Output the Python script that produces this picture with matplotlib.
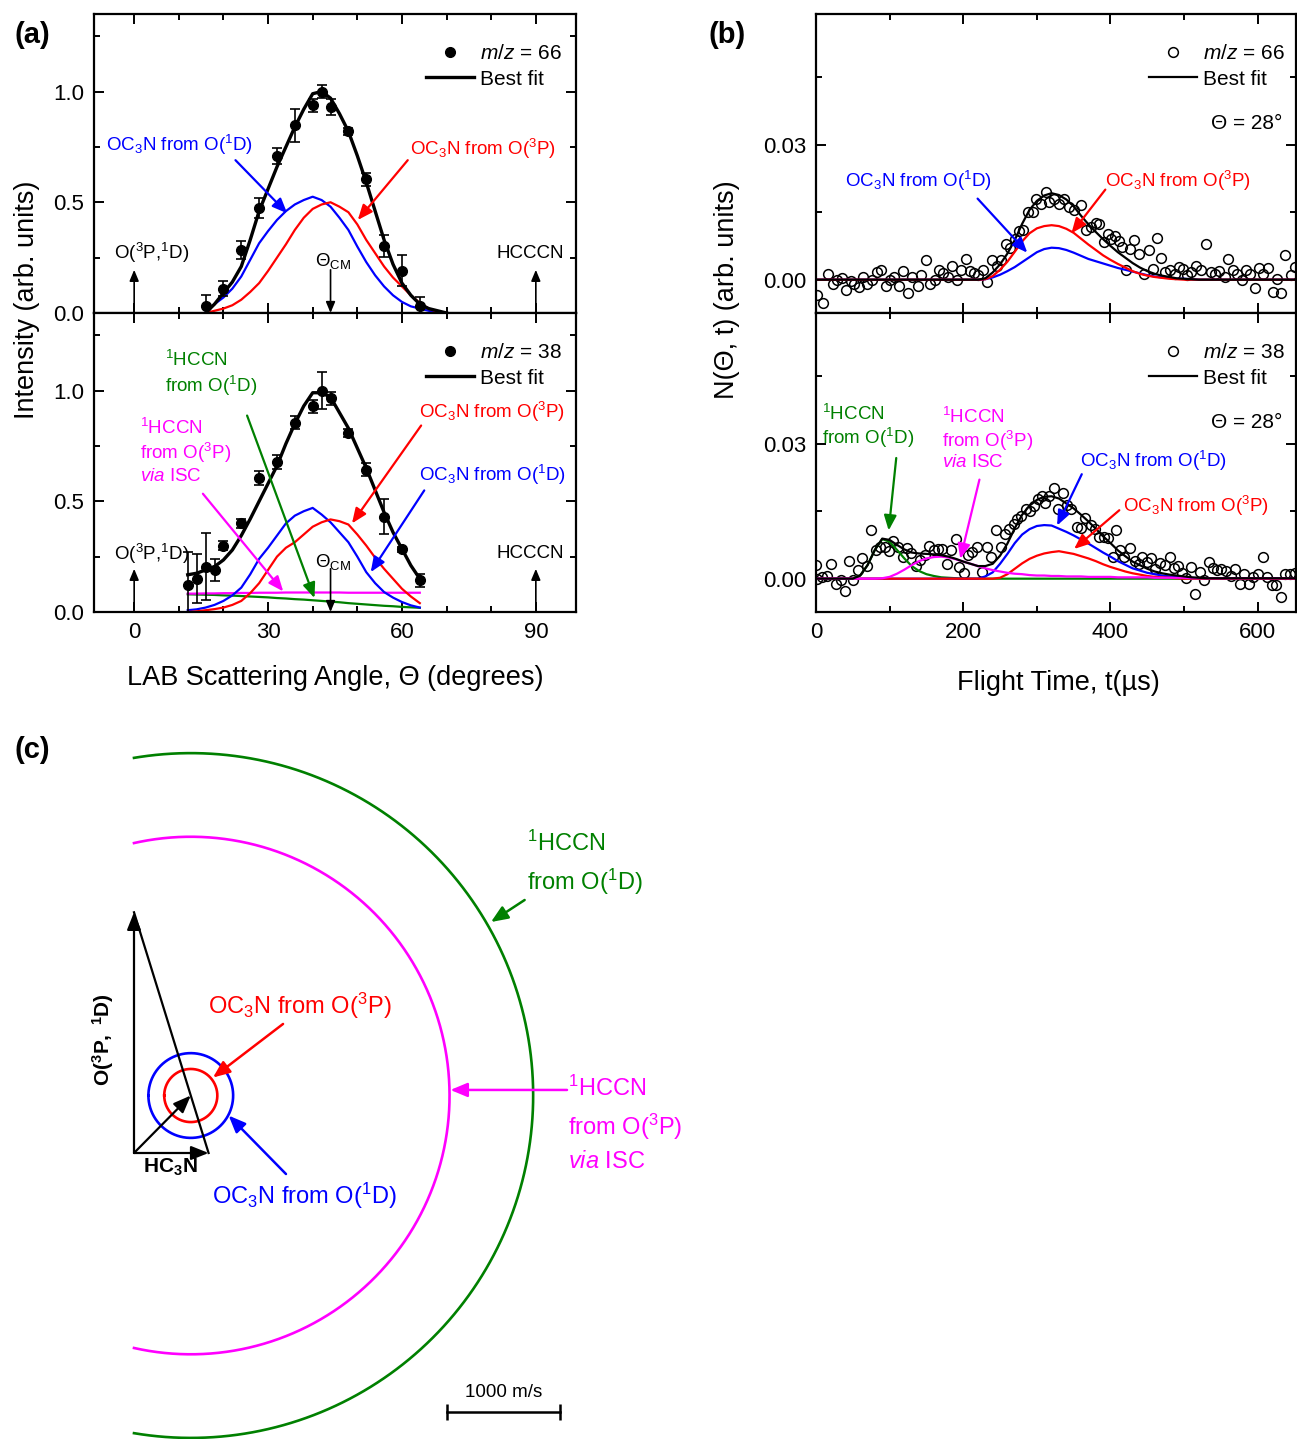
import numpy as np
import matplotlib
matplotlib.use("Agg")
import matplotlib.pyplot as plt
from matplotlib.lines import Line2D
from matplotlib.ticker import MultipleLocator, FormatStrFormatter

plt.rcParams['font.family'] = ['Liberation Sans', 'DejaVu Sans']
plt.rcParams['mathtext.fontset'] = 'custom'
plt.rcParams['mathtext.rm'] = 'Liberation Sans'
plt.rcParams['mathtext.it'] = 'Liberation Sans:italic'
plt.rcParams['mathtext.bf'] = 'Liberation Sans:bold'
plt.rcParams['mathtext.default'] = 'regular'

BLUE = '#0000ff'
RED = '#ff0000'
GREEN = '#008000'
MAGENTA = '#ff00ff'

# ---------------- (a) LAB angular distributions ----------------
# m/z = 66
ang66 = [16, 20, 24, 28, 32, 36, 40, 42, 44, 48, 52, 56, 60, 64]
int66 = [0.03, 0.11, 0.285, 0.475, 0.708, 0.847, 0.937, 1.0, 0.93, 0.82, 0.604, 0.304, 0.19, 0.03]
err66 = [0.05, 0.035, 0.04, 0.045, 0.035, 0.075, 0.03, 0.03, 0.035, 0.015, 0.03, 0.05, 0.07, 0.04]

ang66_fit = [16, 18, 20, 22, 24, 26, 28, 30, 32, 34, 36, 38, 40, 42, 44, 46, 48, 50, 52, 54, 56, 58, 60, 62, 64, 66, 68, 70]
fit66_total = [0.0, 0.04, 0.09, 0.14, 0.21, 0.33, 0.46, 0.56, 0.66, 0.75, 0.84, 0.92, 0.99, 1.0, 0.97, 0.90, 0.82, 0.71,
               0.59, 0.46, 0.33, 0.22, 0.135, 0.08, 0.04, 0.02, 0.01, 0.0]
fit66_o1d = [0.01, 0.04, 0.07, 0.11, 0.165, 0.24, 0.315, 0.37, 0.42, 0.46, 0.49, 0.51, 0.525, 0.51, 0.48, 0.43, 0.375, 0.30,
             0.23, 0.17, 0.12, 0.08, 0.05, 0.03, 0.02, 0.01, 0.005, 0.0]
fit66_o3p = [0.0, 0.01, 0.02, 0.035, 0.06, 0.095, 0.135, 0.19, 0.25, 0.31, 0.375, 0.43, 0.47, 0.49, 0.50, 0.48, 0.455, 0.40,
             0.33, 0.27, 0.21, 0.16, 0.12, 0.08, 0.045, 0.02, 0.005, 0.0]

# m/z = 38
ang38 = [12, 14, 16, 18, 20, 24, 28, 32, 36, 40, 42, 44, 48, 52, 56, 60, 64]
int38 = [0.123, 0.15, 0.205, 0.19, 0.30, 0.40, 0.605, 0.677, 0.854, 0.928, 1.0, 0.965, 0.808, 0.642, 0.43, 0.283, 0.143]
err38 = [0.15, 0.11, 0.15, 0.05, 0.02, 0.02, 0.03, 0.03, 0.03, 0.03, 0.085, 0.03, 0.02, 0.03, 0.08, 0.01, 0.03]

ang38_fit = [12, 14, 16, 18, 20, 22, 24, 26, 28, 30, 32, 34, 36, 38, 40, 42, 44, 46, 48, 50, 52, 54, 56, 58, 60, 62, 64]
fit38_total = [0.168, 0.175, 0.19, 0.205, 0.235, 0.28, 0.345, 0.42, 0.50, 0.58, 0.66, 0.76, 0.85, 0.93, 0.99, 0.99, 0.97,
               0.90, 0.83, 0.74, 0.65, 0.55, 0.45, 0.36, 0.285, 0.21, 0.15]
fit38_oc3n_o1d = [0.008, 0.012, 0.02, 0.032, 0.05, 0.075, 0.11, 0.17, 0.24, 0.29, 0.345, 0.40, 0.435, 0.455, 0.47, 0.44,
                  0.405, 0.36, 0.315, 0.25, 0.18, 0.13, 0.09, 0.065, 0.045, 0.03, 0.02]
fit38_oc3n_o3p = [0.0, 0.003, 0.008, 0.013, 0.02, 0.032, 0.05, 0.085, 0.13, 0.19, 0.25, 0.29, 0.315, 0.35, 0.385, 0.405,
                  0.418, 0.41, 0.395, 0.35, 0.30, 0.245, 0.195, 0.15, 0.105, 0.07, 0.04]
fit38_hccn_o3p = [0.083, 0.083, 0.084, 0.084, 0.085, 0.085, 0.086, 0.086, 0.087, 0.087, 0.087, 0.088, 0.088, 0.088, 0.088,
                  0.088, 0.088, 0.088, 0.087, 0.087, 0.087, 0.087, 0.087, 0.087, 0.087, 0.087, 0.087]
fit38_hccn_o1d = [0.080, 0.079, 0.078, 0.077, 0.075, 0.074, 0.072, 0.070, 0.068, 0.066, 0.063, 0.061, 0.058, 0.056, 0.053,
                  0.050, 0.047, 0.044, 0.040, 0.037, 0.034, 0.031, 0.028, 0.026, 0.023, 0.021, 0.019]

# ---------------- (b) TOF spectra at 28 deg ----------------
tof66_t = [1.8, 10, 16.3, 23.6, 29, 35, 40.4, 47, 51.7, 58.5, 64.4, 69.8, 76.7, 82.5, 88.8, 94.8, 100.7, 106, 112.9,
           118.8, 125.6, 131, 137.9, 143.3, 149.2, 155, 161.4, 167.2, 173.1, 179.5, 185.3, 192.1, 197.6, 203.4, 209.3,
           214.7, 220.2, 227.4, 232.8, 239.6, 245.5, 251, 257.8, 263.7, 270, 275.9, 281.8, 287.3, 294.1, 298.6, 305.4,
           312.5, 317, 323.8, 330.6, 337.4, 344.2, 351, 360, 366.9, 373.7, 380.5, 385, 390.9, 396.4, 400.9, 406.4,
           410.9, 415.4, 421.3, 425.9, 431.7, 438.1, 445.4, 451.7, 457.6, 463.5, 469, 474.4, 480.3, 487.1, 492.5,
           498.5, 504.4, 509.8, 516.6, 523.4, 530.2, 536.1, 541.5, 547, 555.1, 559.6, 566.4, 572.3, 578.6, 584.5, 589,
           595.8, 601.3, 607.2, 614, 620.8, 626.7, 632.2, 637.6, 645.8, 651.2]
tof66_n = [-0.0035, -0.0052, 0.0012, -0.001, 0.0, 0.0004, -0.0024, -0.0003, -0.001, -0.0016, 0.0007, -0.0009, 0.0,
           0.0017, 0.0021, -0.0015, 0.0, 0.0007, -0.0015, 0.0019, -0.003, 0.0006, -0.0015, 0.001, 0.0043, -0.0009, 0.0,
           0.0022, 0.0015, 0.0007, 0.003, 0.0, 0.0022, 0.0047, 0.0019, 0.0015, 0.001, 0.0022, -0.0005, 0.0043, 0.003,
           0.0043, 0.008, 0.0071, 0.0091, 0.0108, 0.011, 0.015, 0.015, 0.018, 0.0169, 0.0195, 0.0172, 0.018, 0.0169,
           0.018, 0.0161, 0.0154, 0.0165, 0.011, 0.0117, 0.0126, 0.0123, 0.0084, 0.0101, 0.0091, 0.0096, 0.0087,
           0.0072, 0.0022, 0.0069, 0.0089, 0.0058, 0.0013, 0.0065, 0.0024, 0.0093, 0.0049, 0.0017, 0.0021, 0.0013,
           0.0028, 0.0024, 0.001, 0.0017, 0.003, 0.0021, 0.008, 0.0017, 0.0012, 0.0019, 0.0006, 0.0047, 0.0021, 0.0013,
           0.0, 0.0022, 0.0013, -0.0018, 0.0027, 0.0013, 0.0027, -0.0027, 0.0002, -0.003, 0.0054, 0.001, 0.0028]

tof38_t = [0, 1.8, 8.6, 15.4, 20.9, 26.8, 33.6, 39, 44.9, 50.8, 57.1, 63, 69.8, 75.3, 81.2, 87.1, 93.4, 99.3, 105.2,
           111.6, 117.5, 123.4, 128.8, 135.6, 141.5, 147.8, 153.7, 160.5, 165.9, 171.8, 177.7, 183.1, 189.9, 194.4,
           201.2, 206.6, 212.5, 219.3, 226.1, 232, 238.3, 244.2, 251, 256.5, 262.4, 268.3, 273.7, 279.1, 285, 290.9,
           296.4, 300.9, 306.4, 310.9, 316.8, 322.9, 329.2, 335.1, 341, 346.5, 354.7, 360.1, 365.5, 373.7, 379.2, 385,
           391.8, 397.3, 403.2, 407.7, 413.6, 419, 425.9, 432.7, 438.1, 442.6, 449.9, 455.3, 460.8, 466.7, 473.5,
           480.3, 486.2, 491.6, 497.1, 503, 508.8, 515.2, 521.1, 527, 533.3, 539.2, 545.1, 550.6, 557.4, 563.3, 569.6,
           575.5, 581.4, 587.8, 593.7, 600.5, 607.3, 613.2, 619.5, 625.4, 631.3, 636.7, 643.5, 650]
tof38_n = [0.003, 0.0, 0.0004, 0.0007, 0.0033, -0.0012, -0.0002, -0.0027, 0.0039, -0.0002, 0.002, 0.0046, 0.0029,
           0.0108, 0.0064, 0.0071, 0.0071, 0.0062, 0.0083, 0.0071, 0.0048, 0.0068, 0.0056, 0.0029, 0.0042, 0.0053,
           0.0073, 0.0064, 0.0066, 0.0066, 0.0033, 0.0064, 0.0088, 0.0027, 0.0012, 0.0053, 0.0059, 0.007, 0.0015,
           0.0071, 0.0048, 0.0108, 0.007, 0.01, 0.011, 0.0121, 0.0132, 0.0139, 0.0154, 0.015, 0.0161, 0.0176, 0.0183,
           0.0168, 0.0183, 0.0201, 0.0154, 0.019, 0.0163, 0.0154, 0.0115, 0.0113, 0.0134, 0.0119, 0.011, 0.0092,
           0.0093, 0.009, 0.0049, 0.0108, 0.0064, 0.0049, 0.0068, 0.004, 0.0033, 0.0049, 0.0037, 0.0046, 0.0022,
           0.0034, 0.0031, 0.0049, 0.0024, 0.0029, 0.0012, 0.0002, 0.0027, -0.0034, 0.0015, -0.0004, 0.0037, 0.0024,
           0.002, 0.0022, 0.0017, 0.0005, 0.0022, -0.0012, 0.0011, -0.0012, 0.0004, 0.001, 0.0048, 0.0004, -0.0015,
           -0.0015, -0.004, 0.001, 0.001, 0.0012]

tof_fit_t = list(range(0, 660, 10))
tof66_total = [0, 0, 0, 0, 0, 0, 0, 0, 0, 0, 0, 0, 0, 0, 0, 0, 0, 0, 0, 0, 0, 0,
               0.0, 0.0003, 0.0016, 0.0034, 0.0058, 0.0088, 0.0124, 0.0155, 0.0175, 0.0187, 0.0192, 0.0188, 0.0178,
               0.0163, 0.0142, 0.0123, 0.0106, 0.0090, 0.0075, 0.0061, 0.0049, 0.0037, 0.0027, 0.0019, 0.0013, 0.0009,
               0.0006, 0.0003, 0.0002, 0.0001,
               0, 0, 0, 0, 0, 0, 0, 0, 0, 0, 0, 0, 0, 0]
tof66_o3p = [0, 0, 0, 0, 0, 0, 0, 0, 0, 0, 0, 0, 0, 0, 0, 0, 0, 0, 0, 0, 0, 0,
             0.0, 0.0001, 0.0008, 0.0022, 0.0040, 0.0062, 0.0085, 0.0103, 0.0114, 0.0119, 0.0121, 0.0119, 0.0113,
             0.0104, 0.0091, 0.0078, 0.0066, 0.0054, 0.0044, 0.0035, 0.0027, 0.0019, 0.0013, 0.0009, 0.0006, 0.0004,
             0.0002, 0.0001, 0.0, 0.0,
             0, 0, 0, 0, 0, 0, 0, 0, 0, 0, 0, 0, 0, 0]
tof66_o1d = [0, 0, 0, 0, 0, 0, 0, 0, 0, 0, 0, 0, 0, 0, 0, 0, 0, 0, 0, 0, 0, 0,
             0.0, 0.0001, 0.0005, 0.0011, 0.0019, 0.0028, 0.0039, 0.0050, 0.0061, 0.0068, 0.0071, 0.0070, 0.0066,
             0.0060, 0.0053, 0.0046, 0.0041, 0.0036, 0.0031, 0.0026, 0.0022, 0.0018, 0.0014, 0.0010, 0.0007, 0.0005,
             0.0004, 0.0002, 0.0002, 0.0001,
             0, 0, 0, 0, 0, 0, 0, 0, 0, 0, 0, 0, 0, 0]

tof38_total = [0, 0, 0, 0, 0, 0,
               0.0007, 0.0030, 0.0064, 0.0089, 0.0086, 0.0075, 0.0065, 0.0058, 0.0056, 0.0055, 0.0054, 0.0052, 0.0049,
               0.0044, 0.0038, 0.0033, 0.0028, 0.0028, 0.0033, 0.0051, 0.0078, 0.0112, 0.0142, 0.0162, 0.0175, 0.0182,
               0.0183, 0.0178, 0.0167, 0.0156, 0.0142, 0.0127, 0.0111, 0.0094, 0.0079, 0.0063, 0.0050, 0.0038, 0.0030,
               0.0022, 0.0016, 0.0012, 0.0009, 0.0007, 0.0005, 0.0003, 0.0002,
               0.0001, 0.0001, 0.0001, 0.0001, 0.0001, 0.0001, 0.0001, 0.0001, 0.0001, 0.0001, 0.0001, 0.0001, 0.0001]
tof38_hccn_o1d = [0, 0, 0, 0, 0, 0,
                  0.0007, 0.0030, 0.0064, 0.0088, 0.0082, 0.0064, 0.0045, 0.0028, 0.0017, 0.0010, 0.0006, 0.0003,
                  0.0002, 0.0001,
                  0, 0, 0, 0, 0, 0, 0, 0, 0, 0, 0, 0, 0, 0, 0, 0, 0, 0, 0, 0, 0, 0, 0, 0, 0, 0,
                  0, 0, 0, 0, 0, 0, 0, 0, 0, 0, 0, 0, 0, 0, 0, 0, 0, 0, 0, 0]
tof38_hccn_o3p = [0, 0, 0, 0, 0, 0, 0, 0, 0,
                  0.0001, 0.0004, 0.0011, 0.0020, 0.0030, 0.0039, 0.0045, 0.0048, 0.0049, 0.0047, 0.0043, 0.0038,
                  0.0033, 0.0028, 0.0023, 0.0019, 0.0016, 0.0013, 0.0011, 0.0010, 0.0008, 0.0007, 0.0007, 0.0006,
                  0.0006, 0.0005, 0.0005, 0.0005, 0.0004, 0.0004, 0.0004, 0.0004, 0.0003, 0.0003, 0.0003, 0.0003,
                  0.0003, 0.0002, 0.0002, 0.0002, 0.0002, 0.0002,
                  0.0001, 0.0001, 0.0001, 0.0001, 0.0001, 0.0001, 0.0001, 0.0001, 0.0001, 0.0001, 0.0001, 0.0001,
                  0.0001, 0.0001, 0.0001]
tof38_oc3n_o1d = [0, 0, 0, 0, 0, 0, 0, 0, 0, 0, 0, 0, 0, 0, 0, 0, 0, 0, 0, 0, 0, 0,
                  0.0, 0.0005, 0.0014, 0.0033, 0.0055, 0.0079, 0.0098, 0.0110, 0.0117, 0.0119, 0.0118, 0.0111, 0.0104,
                  0.0096, 0.0087, 0.0078, 0.0068, 0.0058, 0.0049, 0.0039, 0.0031, 0.0023, 0.0018, 0.0013, 0.0010,
                  0.0007, 0.0005, 0.0004, 0.0003, 0.0002, 0.0001,
                  0, 0, 0, 0, 0, 0, 0, 0, 0, 0, 0, 0, 0]
tof38_oc3n_o3p = [0, 0, 0, 0, 0, 0, 0, 0, 0, 0, 0, 0, 0, 0, 0, 0, 0, 0, 0, 0, 0, 0, 0, 0, 0,
                  0.0002, 0.0010, 0.0022, 0.0034, 0.0044, 0.0051, 0.0056, 0.0059, 0.0061, 0.0058, 0.0055, 0.0050,
                  0.0045, 0.0039, 0.0032, 0.0026, 0.0021, 0.0016, 0.0012, 0.0009, 0.0006, 0.0004, 0.0003, 0.0002,
                  0.0001,
                  0, 0, 0, 0, 0, 0, 0, 0, 0, 0, 0, 0, 0, 0, 0, 0]

# ---------------- (c) Newton diagram (m/s) ----------------
v_O = 2130.0        # O(3P,1D) beam velocity
v_HC3N = 660.0      # HC3N beam velocity
m_O, m_HC3N = 16.0, 51.0
ring_names = ['OC3N from O(3P)', 'OC3N from O(1D)', '1HCCN from O(3P)', '1HCCN from O(1D)']
ring_radii = [235, 375, 2290, 3030]
ring_colors = [RED, BLUE, MAGENTA, GREEN]
scale_len = 1000

W, H = 1297, 1439
fig = plt.figure(figsize=(W / 100, H / 100), dpi=100)


def fx(px):
    return px / W


def fy(py):
    return 1 - py / H


def style(ax):
    ax.tick_params(which='both', direction='in', top=True, right=True, width=1.4, labelsize=16, pad=7)
    ax.tick_params(which='major', length=7)
    ax.tick_params(which='minor', length=4)
    for s in ax.spines.values():
        s.set_linewidth(1.6)


def arrow(ax, tip, start, color, lw=1.6, head=15):
    ax.annotate('', xy=tip, xytext=start,
                arrowprops=dict(arrowstyle='-|>,head_length=0.6,head_width=0.25', color=color, lw=lw,
                                shrinkA=0, shrinkB=0, mutation_scale=head))


def legend(ax, handles, labels, xa):
    ax.legend(handles, labels, loc='upper right', bbox_to_anchor=(xa, 0.912), frameon=False, fontsize=15,
              handlelength=2.3, handletextpad=0.3, labelspacing=0.29, borderaxespad=0, borderpad=0.2)


LBL = 13.5

# ---- (a) top ----
axa1 = fig.add_axes([fx(94), fy(313), fx(576) - fx(94), fy(14) - fy(313)])
axa2 = fig.add_axes([fx(94), fy(612), fx(576) - fx(94), fy(313) - fy(612)])
for ax in (axa1, axa2):
    ax.set_xlim(-9, 99)
    ax.set_ylim(0, 1.35)
    ax.xaxis.set_major_locator(MultipleLocator(30))
    ax.xaxis.set_minor_locator(MultipleLocator(10))
    ax.yaxis.set_major_locator(MultipleLocator(0.5))
    ax.yaxis.set_minor_locator(MultipleLocator(0.25))
    ax.yaxis.set_major_formatter(FormatStrFormatter('%.1f'))
    style(ax)
axa1.tick_params(labelbottom=False)

axa1.plot(ang66_fit, fit66_o1d, color=BLUE, lw=1.6)
axa1.plot(ang66_fit, fit66_o3p, color=RED, lw=1.6)
axa1.plot(ang66_fit, fit66_total, color='k', lw=2.4)
axa1.errorbar(ang66, int66, yerr=err66, fmt='o', color='k', ms=7, elinewidth=1.2, capsize=3.5, capthick=1.2)

axa1.text(-6.4, 0.757, r'OC$_3$N from O($^1$D)', color=BLUE, fontsize=LBL, va='center')
arrow(axa1, (34.3, 0.45), (22.7, 0.69), BLUE)
axa1.text(61.7, 0.742, r'OC$_3$N from O($^3$P)', color=RED, fontsize=LBL, va='center')
arrow(axa1, (50.1, 0.42), (61.3, 0.69), RED)

for ax, ytxt in ((axa1, 0.27), (axa2, 0.263)):
    ax.text(3.8, ytxt, r'O($^3$P,$^1$D)', fontsize=LBL, ha='center', va='center')
    arrow(ax, (0, 0.195), (0, 0), 'k', lw=1.2, head=11)
    ax.text(88.7, ytxt, 'HCCCN', fontsize=LBL, ha='center', va='center')
    arrow(ax, (90, 0.195), (90, 0), 'k', lw=1.2, head=11)
    ax.text(44.5, ytxt - 0.035, r'Θ$_{CM}$', fontsize=LBL, ha='center', va='center')
    arrow(ax, (44, 0), (44, 0.195), 'k', lw=1.2, head=11)

h_pt = Line2D([], [], ls='none', marker='o', color='k', ms=7)
h_fit = Line2D([], [], color='k', lw=2.4)
legend(axa1, [h_pt, h_fit], [r'$\mathit{m/z}$ = 66', 'Best fit'], 0.979)

# ---- (a) bottom ----
axa2.plot(ang38_fit, fit38_hccn_o1d, color=GREEN, lw=1.6)
axa2.plot(ang38_fit, fit38_hccn_o3p, color=MAGENTA, lw=1.6)
axa2.plot(ang38_fit, fit38_oc3n_o1d, color=BLUE, lw=1.6)
axa2.plot(ang38_fit, fit38_oc3n_o3p, color=RED, lw=1.6)
axa2.plot(ang38_fit, fit38_total, color='k', lw=2.4)
axa2.errorbar(ang38, int38, yerr=err38, fmt='o', color='k', ms=7, elinewidth=1.2, capsize=3.5, capthick=1.2)

axa2.text(7.0, 1.074, '$^1$HCCN\nfrom O($^1$D)', color=GREEN, fontsize=LBL, va='center', linespacing=1.2)
arrow(axa2, (40.4, 0.063), (25.3, 0.887), GREEN)
axa2.text(1.3, 0.726, '$^1$HCCN\nfrom O($^3$P)\n$\\mathit{via}$ ISC', color=MAGENTA, fontsize=LBL, va='center',
          linespacing=1.2)
arrow(axa2, (33.4, 0.093), (15.4, 0.534), MAGENTA)
axa2.text(63.8, 0.902, r'OC$_3$N from O($^3$P)', color=RED, fontsize=LBL, va='center')
arrow(axa2, (48.8, 0.40), (64.3, 0.842), RED)
axa2.text(63.8, 0.621, r'OC$_3$N from O($^1$D)', color=BLUE, fontsize=LBL, va='center')
arrow(axa2, (53.0, 0.18), (65.0, 0.549), BLUE)
legend(axa2, [h_pt, h_fit], [r'$\mathit{m/z}$ = 38', 'Best fit'], 0.979)

# ---- (b) ----
axb1 = fig.add_axes([fx(816), fy(313), fx(1296) - fx(816), fy(14) - fy(313)])
axb2 = fig.add_axes([fx(816), fy(612), fx(1296) - fx(816), fy(313) - fy(612)])
for ax in (axb1, axb2):
    ax.set_xlim(0, 652)
    ax.set_ylim(-0.0074, 0.059)
    ax.xaxis.set_major_locator(MultipleLocator(200))
    ax.xaxis.set_minor_locator(MultipleLocator(100))
    ax.yaxis.set_major_locator(MultipleLocator(0.03))
    ax.yaxis.set_minor_locator(MultipleLocator(0.015))
    ax.yaxis.set_major_formatter(FormatStrFormatter('%.2f'))
    style(ax)
axb1.tick_params(labelbottom=False)

axb1.plot(tof66_t, tof66_n, 'o', mfc='none', mec='k', ms=7, mew=1.1)
axb1.plot(tof_fit_t, tof66_o1d, color=BLUE, lw=1.6)
axb1.plot(tof_fit_t, tof66_o3p, color=RED, lw=1.6)
axb1.plot(tof_fit_t, tof66_total, color='k', lw=1.6)
axb1.text(39.6, 0.022, r'OC$_3$N from O($^1$D)', color=BLUE, fontsize=LBL, va='center')
arrow(axb1, (287, 0.006), (219.5, 0.018), BLUE)
axb1.text(392, 0.022, r'OC$_3$N from O($^3$P)', color=RED, fontsize=LBL, va='center')
arrow(axb1, (347, 0.0103), (393, 0.020), RED)

axb2.plot(tof38_t, tof38_n, 'o', mfc='none', mec='k', ms=7, mew=1.1)
axb2.plot(tof_fit_t, tof38_hccn_o1d, color=GREEN, lw=1.6)
axb2.plot(tof_fit_t, tof38_oc3n_o1d, color=BLUE, lw=1.6)
axb2.plot(tof_fit_t, tof38_oc3n_o3p, color=RED, lw=1.6)
axb2.plot(tof_fit_t, tof38_hccn_o3p, color=MAGENTA, lw=1.6)
axb2.plot(tof_fit_t, tof38_total, color='k', lw=1.6)
axb2.text(8.7, 0.0337, '$^1$HCCN\nfrom O($^1$D)', color=GREEN, fontsize=LBL, va='center', linespacing=1.1)
arrow(axb2, (98.7, 0.0107), (109, 0.0268), GREEN)
axb2.text(170.7, 0.031, '$^1$HCCN\nfrom O($^3$P)\n$\\mathit{via}$ ISC', color=MAGENTA, fontsize=LBL, va='center',
          linespacing=1.1)
arrow(axb2, (196, 0.0044), (222, 0.022), MAGENTA)
axb2.text(358, 0.0262, r'OC$_3$N from O($^1$D)', color=BLUE, fontsize=LBL, va='center')
arrow(axb2, (327.5, 0.0118), (361, 0.0232), BLUE)
axb2.text(417, 0.0162, r'OC$_3$N from O($^3$P)', color=RED, fontsize=LBL, va='center')
arrow(axb2, (350.6, 0.0066), (412, 0.0152), RED)

h_open = Line2D([], [], ls='none', marker='o', mfc='none', mec='k', ms=7, mew=1.1)
h_fit2 = Line2D([], [], color='k', lw=1.6)
for ax, lab in ((axb1, r'$\mathit{m/z}$ = 66'), (axb2, r'$\mathit{m/z}$ = 38')):
    legend(ax, [h_open, h_fit2], [lab, 'Best fit'], 0.985)
    ax.text(633, 0.0346, 'Θ = 28°', fontsize=15, ha='right', va='center')

# figure-level labels
fig.text(fx(14), fy(35), '(a)', fontsize=21, weight='bold', va='center')
fig.text(fx(708), fy(35), '(b)', fontsize=21, weight='bold', va='center')
fig.text(fx(14), fy(750), '(c)', fontsize=21, weight='bold', va='center')
fig.text(fx(27), fy(300), 'Intensity (arb. units)', fontsize=19.5, rotation=90, ha='center', va='center')
fig.text(fx(727), fy(290), 'N(Θ, t) (arb. units)', fontsize=19.5, rotation=90, ha='center', va='center')
fig.text(fx(335), fy(678), 'LAB Scattering Angle, Θ (degrees)', fontsize=19.5, ha='center', va='center')
fig.text(fx(1058), fy(683), 'Flight Time, t(µs)', fontsize=19.5, ha='center', va='center')

# ---- (c) Newton diagram ----
k = scale_len / 113.0  # m/s per pixel
axc = fig.add_axes([0, 0, fx(700), fy(730)])
axc.set_xlim(-134 * k, (700 - 134) * k)
axc.set_ylim(-(1439 - 1153) * k, (1153 - 730) * k)
axc.axis('off')

vcm_x = m_HC3N * v_HC3N / (m_O + m_HC3N)
vcm_y = m_O * v_O / (m_O + m_HC3N)
for R, c in zip(ring_radii, ring_colors):
    tmax = np.arccos(max(-1.0, -vcm_x / R))
    th = np.linspace(-tmax, tmax, 600)
    axc.plot(vcm_x + R * np.cos(th), vcm_y + R * np.sin(th), color=c, lw=1.9)

tri = dict(arrowstyle='-|>,head_length=0.7,head_width=0.28', color='k', lw=1.6, shrinkA=0, shrinkB=0,
           mutation_scale=15)
axc.annotate('', xy=(0, v_O), xytext=(0, 0), arrowprops=tri)
axc.annotate('', xy=(v_HC3N, 0), xytext=(0, 0), arrowprops=tri)
axc.annotate('', xy=(vcm_x, vcm_y), xytext=(0, 0), arrowprops=tri)
axc.plot([0, v_HC3N], [v_O, 0], color='k', lw=1.6)

CL = 17
axc.text(323, -124, r'$\mathbf{HC_3N}$', fontsize=15, ha='center', va='center')
axc.text(-274, 1000, r'$\mathbf{O(^3P,\ ^1D)}$', fontsize=15, ha='center', va='center', rotation=90)
axc.text(1469, 1301, r'OC$_3$N from O($^3$P)', color=RED, fontsize=CL, ha='center', va='center')
arrow(axc, (699, 668), (1319, 1142), RED, lw=1.8, head=17)
axc.text(1504, -380, r'OC$_3$N from O($^1$D)', color=BLUE, fontsize=CL, ha='center', va='center')
arrow(axc, (838, 331), (1345, -186), BLUE, lw=1.8, head=17)
axc.text(3480, 2558, '$^1$HCCN\nfrom O($^1$D)', color=GREEN, fontsize=CL, ha='left', va='center', linespacing=1.5)
arrow(axc, (3159, 2044), (3457, 2239), GREEN, lw=1.8, head=17)
axc.text(3845, 257, '$^1$HCCN\nfrom O($^3$P)\n$\\mathit{via}$ ISC', color=MAGENTA, fontsize=CL, ha='left',
         va='center', linespacing=1.5)
arrow(axc, (2800, 558), (3832, 558), MAGENTA, lw=1.8, head=17)

sb_x0 = (447 - 134) * k
sb_y = -(1412 - 1153) * k
axc.plot([sb_x0, sb_x0 + scale_len], [sb_y, sb_y], color='k', lw=1.8)
axc.plot([sb_x0, sb_x0 + scale_len], [sb_y, sb_y], ls='none', marker='|', color='k', ms=11, mew=1.8)
axc.text(sb_x0 + scale_len / 2, sb_y + 170, '1000 m/s', fontsize=13.5, ha='center', va='center')

fig.savefig('out.png', dpi=100)
